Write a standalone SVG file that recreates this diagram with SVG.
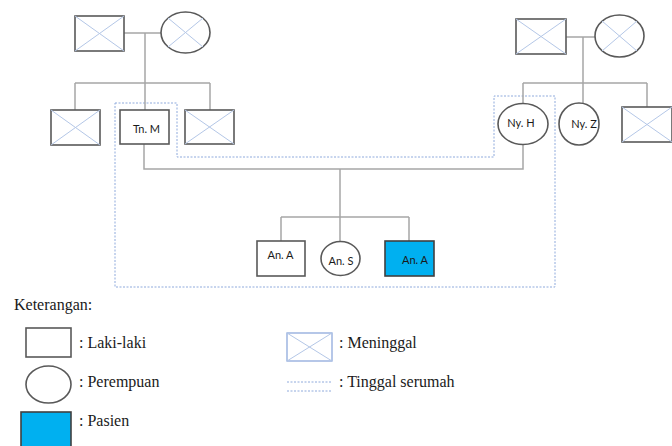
<svg xmlns="http://www.w3.org/2000/svg" width="672" height="446" viewBox="0 0 672 446">
  <style>
    .line { stroke: #a6a6a6; stroke-width: 1.5; fill: none; }
    .node { fill: #ffffff; stroke: #595959; stroke-width: 1.6; }
    .patient { fill: #00b0f0; stroke: #404040; stroke-width: 1.6; }
    .cross { stroke: #b4c7e7; stroke-width: 1; fill: none; }
    .house { fill: none; stroke: #8faadc; stroke-width: 1; stroke-dasharray: 2 1.5; }
    .lbl { font-family: Lato, "Liberation Sans", sans-serif; font-size: 11px; fill: #1a1a1a; text-anchor: middle; }
    .leg { font-family: "Liberation Serif", serif; font-size: 16px; fill: #1a1a1a; }
  </style>
  <rect width="672" height="446" fill="#ffffff"/>

  <!-- household boundary -->
  <polygon class="house" points="115,103 177,103 177,157 494,157 494,96 555,96 555,287 115,287"/>

  <g id="connectors">
    <!-- left grandparents -->
    <path class="line" d="M124,33 H161 M145,33 V110 M75,83 H210 M75,83 V110 M210,83 V110"/>
    <!-- right grandparents -->
    <path class="line" d="M566,37 H595 M583,37 V104 M523,83 H647 M523,83 V103 M647,83 V107"/>
    <!-- parents and children -->
    <path class="line" d="M144,144 V169 H523 V144 M340,169 V242 M281,217 H409 M281,217 V241 M409,217 V241"/>
  </g>

  <g id="grandfather-left">
    <rect class="node" x="75" y="16" width="49" height="35"/>
    <path class="cross" d="M75,16 L124,51 M124,16 L75,51"/>
  </g>
  <g id="grandmother-left">
    <ellipse class="node" cx="185.5" cy="32.5" rx="24.5" ry="20.5"/>
    <path class="cross" d="M168,18 L203,47 M203,18 L168,47"/>
  </g>
  <g id="uncle-left-1">
    <rect class="node" x="51" y="110" width="49" height="35"/>
    <path class="cross" d="M51,110 L100,145 M100,110 L51,145"/>
  </g>
  <g id="tn-m">
    <rect class="node" x="120" y="110" width="49" height="34"/>
    <text class="lbl" x="146.5" y="133">Tn. M</text>
  </g>
  <g id="uncle-left-2">
    <rect class="node" x="185" y="110" width="49" height="34"/>
    <path class="cross" d="M185,110 L234,144 M234,110 L185,144"/>
  </g>

  <g id="grandfather-right">
    <rect class="node" x="516" y="19" width="50" height="35"/>
    <path class="cross" d="M516,19 L566,54 M566,19 L516,54"/>
  </g>
  <g id="grandmother-right">
    <ellipse class="node" cx="619.5" cy="36" rx="24.5" ry="21"/>
    <path class="cross" d="M602,21 L637,51 M637,21 L602,51"/>
  </g>
  <g id="ny-h">
    <ellipse class="node" cx="523" cy="124" rx="25" ry="20.5"/>
    <text class="lbl" x="521" y="127">Ny. H</text>
  </g>
  <g id="ny-z">
    <ellipse class="node" cx="579" cy="124" rx="20" ry="21"/>
    <text class="lbl" x="584" y="128">Ny. Z</text>
  </g>
  <g id="uncle-right">
    <rect class="node" x="622" y="107" width="50" height="35"/>
    <path class="cross" d="M622,107 L672,142 M672,107 L622,142"/>
  </g>

  <g id="an-a-1">
    <rect class="node" x="257" y="241" width="48" height="35"/>
    <text class="lbl" x="280.5" y="259">An. A</text>
  </g>
  <g id="an-s">
    <ellipse class="node" cx="340.5" cy="258.5" rx="19.5" ry="17"/>
    <text class="lbl" x="341" y="265">An. S</text>
  </g>
  <g id="an-a-2">
    <rect class="patient" x="385" y="241" width="49" height="35"/>
    <text class="lbl" x="415" y="264">An. A</text>
  </g>

  <g id="legend">
    <text class="leg" x="14" y="310">Keterangan:</text>

    <rect class="node" x="26" y="328" width="45" height="29"/>
    <text class="leg" x="79" y="348">: Laki-laki</text>

    <ellipse class="node" cx="48.5" cy="384.5" rx="22.5" ry="18.5"/>
    <text class="leg" x="79" y="387">: Perempuan</text>

    <rect class="patient" x="21" y="412" width="50" height="40"/>
    <text class="leg" x="79" y="426">: Pasien</text>

    <rect x="287" y="333" width="45" height="28" fill="#ffffff" stroke="#8faadc" stroke-width="1.3"/>
    <path class="cross" d="M287,333 L332,361 M332,333 L287,361"/>
    <text class="leg" x="339" y="348">: Meninggal</text>

    <path class="house" d="M287,382 H331 M287,391 H331"/>
    <text class="leg" x="339" y="387">: Tinggal serumah</text>
  </g>
</svg>
